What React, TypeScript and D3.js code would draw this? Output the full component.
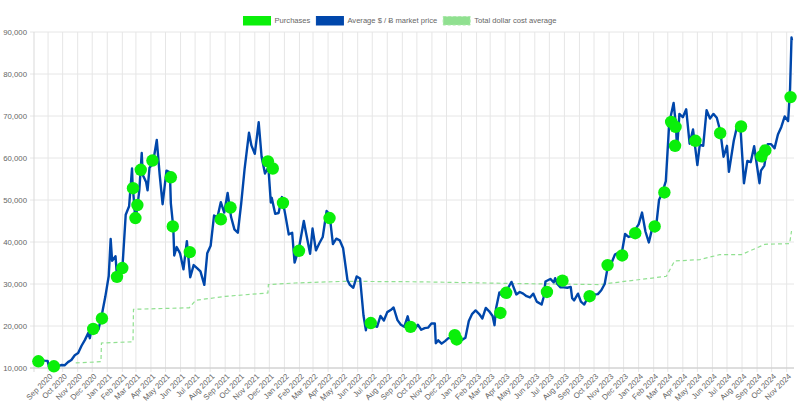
import * as d3 from "d3";
import { useEffect, useRef } from "react";

const parseDay = d3.timeParse("%Y-%m-%d");

const legendLabels = ["Purchases", "Average $ / Ƀ market price", "Total dollar cost average"];
const yTicks = [10000, 20000, 30000, 40000, 50000, 60000, 70000, 80000, 90000];
const xStart = "2020-08-03";
const xEnd = "2024-11-12";

// average market price
const priceSeries: [string, number][] = [
  ["2020-08-03", 11200], ["2020-08-10", 11850], ["2020-08-17", 12250], ["2020-08-24", 11750],
  ["2020-08-31", 11700], ["2020-09-03", 10250], ["2020-09-07", 10300], ["2020-09-14", 10800],
  ["2020-09-21", 10450], ["2020-09-28", 10700], ["2020-10-05", 10650], ["2020-10-12", 11400],
  ["2020-10-19", 11900], ["2020-10-26", 13050], ["2020-11-02", 13550], ["2020-11-09", 15300],
  ["2020-11-16", 16700], ["2020-11-23", 18400], ["2020-11-26", 17100], ["2020-11-30", 19400],
  ["2020-12-07", 19150], ["2020-12-14", 19250], ["2020-12-21", 22800], ["2020-12-28", 27000],
  ["2021-01-04", 31900], ["2021-01-08", 40700], ["2021-01-11", 35500], ["2021-01-18", 36600],
  ["2021-01-21", 31700], ["2021-01-25", 32300], ["2021-02-01", 33500], ["2021-02-08", 46500],
  ["2021-02-15", 48500], ["2021-02-21", 57500], ["2021-02-22", 54100], ["2021-02-28", 45200],
  ["2021-03-04", 48400], ["2021-03-08", 52300], ["2021-03-13", 61200], ["2021-03-15", 56000],
  ["2021-03-22", 54300], ["2021-03-25", 52300], ["2021-03-29", 57700], ["2021-04-05", 58700],
  ["2021-04-13", 64300], ["2021-04-19", 56000], ["2021-04-25", 49000], ["2021-05-03", 57000],
  ["2021-05-10", 56600], ["2021-05-12", 49200], ["2021-05-17", 43500], ["2021-05-19", 36800],
  ["2021-05-24", 38800], ["2021-05-31", 37300], ["2021-06-07", 33500], ["2021-06-14", 40200],
  ["2021-06-21", 31600], ["2021-06-28", 34500], ["2021-07-05", 33800], ["2021-07-12", 33000],
  ["2021-07-20", 29800], ["2021-07-26", 37300], ["2021-08-02", 39100], ["2021-08-09", 46300],
  ["2021-08-16", 45900], ["2021-08-23", 49500], ["2021-08-30", 47000], ["2021-09-06", 51700],
  ["2021-09-13", 46000], ["2021-09-20", 43000], ["2021-09-27", 42200], ["2021-10-04", 49200],
  ["2021-10-11", 57400], ["2021-10-20", 66000], ["2021-10-25", 63000], ["2021-11-01", 61000],
  ["2021-11-09", 68500], ["2021-11-15", 60300], ["2021-11-22", 56300], ["2021-11-29", 57800],
  ["2021-12-04", 49400], ["2021-12-06", 50500], ["2021-12-13", 46700], ["2021-12-20", 46900],
  ["2021-12-27", 50700], ["2022-01-03", 46400], ["2022-01-10", 41800], ["2022-01-17", 42200],
  ["2022-01-22", 35100], ["2022-01-31", 38500], ["2022-02-10", 45000], ["2022-02-14", 42500],
  ["2022-02-23", 37200], ["2022-02-28", 43200], ["2022-03-07", 38000], ["2022-03-14", 39700],
  ["2022-03-21", 41200], ["2022-03-29", 47400], ["2022-04-04", 46600], ["2022-04-11", 39500],
  ["2022-04-18", 40800], ["2022-04-25", 40400], ["2022-05-02", 38500], ["2022-05-11", 30900],
  ["2022-05-16", 29800], ["2022-05-23", 29100], ["2022-05-30", 31800], ["2022-06-06", 31300],
  ["2022-06-13", 22500], ["2022-06-18", 19000], ["2022-06-20", 20600], ["2022-06-27", 20700],
  ["2022-07-04", 20200], ["2022-07-11", 19800], ["2022-07-18", 22400], ["2022-07-25", 21300],
  ["2022-08-01", 23300], ["2022-08-08", 23800], ["2022-08-14", 24400], ["2022-08-22", 21400],
  ["2022-08-29", 20300], ["2022-09-05", 19800], ["2022-09-12", 22300], ["2022-09-19", 18900],
  ["2022-09-26", 19200], ["2022-10-03", 20300], ["2022-10-10", 19100], ["2022-10-17", 19500],
  ["2022-10-24", 19600], ["2022-10-31", 20600], ["2022-11-07", 20600], ["2022-11-09", 15900],
  ["2022-11-14", 16600], ["2022-11-21", 15800], ["2022-11-28", 16400], ["2022-12-05", 17100],
  ["2022-12-12", 17200], ["2022-12-19", 16700], ["2022-12-26", 16900], ["2023-01-02", 16700],
  ["2023-01-09", 17200], ["2023-01-16", 21200], ["2023-01-23", 22900], ["2023-01-30", 23700],
  ["2023-02-06", 22900], ["2023-02-13", 21800], ["2023-02-20", 24300], ["2023-02-27", 23500],
  ["2023-03-06", 22400], ["2023-03-10", 20200], ["2023-03-13", 24100], ["2023-03-20", 28000],
  ["2023-03-27", 27100], ["2023-04-03", 28200], ["2023-04-10", 29700], ["2023-04-14", 30500],
  ["2023-04-24", 27500], ["2023-05-01", 28100], ["2023-05-08", 27700], ["2023-05-15", 27100],
  ["2023-05-22", 26800], ["2023-05-29", 27700], ["2023-06-05", 25800], ["2023-06-15", 25100],
  ["2023-06-19", 26800], ["2023-06-23", 30600], ["2023-07-03", 31200], ["2023-07-10", 30400],
  ["2023-07-13", 31400], ["2023-07-17", 30100], ["2023-07-24", 29200], ["2023-07-31", 29200],
  ["2023-08-07", 29100], ["2023-08-14", 29300], ["2023-08-17", 26600], ["2023-08-21", 26100],
  ["2023-08-29", 27700], ["2023-09-04", 25800], ["2023-09-11", 25100], ["2023-09-18", 26800],
  ["2023-09-25", 26300], ["2023-10-02", 27500], ["2023-10-09", 27600], ["2023-10-16", 28500],
  ["2023-10-23", 30000], ["2023-10-30", 34500], ["2023-11-06", 35000], ["2023-11-13", 37000],
  ["2023-11-20", 37400], ["2023-11-27", 37200], ["2023-12-04", 41900], ["2023-12-11", 41200],
  ["2023-12-18", 41400], ["2023-12-25", 43000], ["2024-01-01", 44200], ["2024-01-08", 47000],
  ["2024-01-15", 42500], ["2024-01-22", 39900], ["2024-01-29", 43300], ["2024-02-05", 42600],
  ["2024-02-12", 50000], ["2024-02-19", 51800], ["2024-02-26", 54500], ["2024-03-04", 68300],
  ["2024-03-13", 73100], ["2024-03-18", 67600], ["2024-03-20", 61900], ["2024-03-25", 70500],
  ["2024-04-01", 69700], ["2024-04-08", 71600], ["2024-04-15", 63400], ["2024-04-22", 66800],
  ["2024-05-01", 58300], ["2024-05-06", 63200], ["2024-05-13", 62900], ["2024-05-20", 71400],
  ["2024-05-27", 69400], ["2024-06-03", 70500], ["2024-06-10", 69600], ["2024-06-17", 66500],
  ["2024-06-24", 60300], ["2024-07-01", 62900], ["2024-07-05", 56700], ["2024-07-15", 64100],
  ["2024-07-22", 67600], ["2024-07-29", 66800], ["2024-08-05", 54000], ["2024-08-12", 59300],
  ["2024-08-19", 59000], ["2024-08-26", 62800], ["2024-09-06", 54000], ["2024-09-09", 57000],
  ["2024-09-16", 58200], ["2024-09-23", 63300], ["2024-09-30", 63300], ["2024-10-07", 62300],
  ["2024-10-14", 65600], ["2024-10-21", 67400], ["2024-10-28", 69900], ["2024-11-04", 68800],
  ["2024-11-08", 76500], ["2024-11-11", 88700], ["2024-11-12", 88000],
];

const purchases: [string, number][] = [
  ["2020-08-12", 11600], ["2020-09-13", 10400], ["2020-12-03", 19300], ["2020-12-21", 21800],
  ["2021-01-21", 31700], ["2021-02-01", 33800], ["2021-02-28", 45700], ["2021-03-04", 48800],
  ["2021-02-23", 52800], ["2021-03-11", 57200], ["2021-04-04", 59400], ["2021-05-12", 55400],
  ["2021-05-16", 43700], ["2021-06-20", 37600], ["2021-08-23", 45400], ["2021-09-12", 48200],
  ["2021-11-28", 59200], ["2021-12-08", 57500], ["2021-12-29", 49300], ["2022-01-31", 37900],
  ["2022-04-04", 45700], ["2022-06-28", 20700], ["2022-09-18", 19800], ["2022-12-18", 17800],
  ["2022-12-22", 16800], ["2023-03-22", 23100], ["2023-04-03", 27900], ["2023-06-26", 28100],
  ["2023-07-28", 30800], ["2023-09-22", 27100], ["2023-10-29", 34500], ["2023-11-28", 36800],
  ["2023-12-25", 42100], ["2024-02-03", 43700], ["2024-02-23", 51800], ["2024-03-08", 68600],
  ["2024-03-17", 67400], ["2024-03-16", 62900], ["2024-04-27", 64100], ["2024-06-17", 65900],
  ["2024-07-30", 67500], ["2024-09-10", 60400], ["2024-09-18", 61800], ["2024-11-09", 74500],
];

const dcaSeries: [string, number][] = [
  ["2020-10-28", 11200], ["2020-12-19", 11500], ["2020-12-20", 15950], ["2021-02-23", 16240],
  ["2021-02-24", 23980], ["2021-06-19", 24330], ["2021-07-02", 26120], ["2021-09-02", 27070],
  ["2021-11-28", 27860], ["2021-11-29", 29860], ["2022-01-23", 30240], ["2022-05-06", 30640],
  ["2022-10-07", 30520], ["2023-05-01", 30100], ["2023-10-13", 29860], ["2023-11-23", 30480],
  ["2024-02-27", 31830], ["2024-03-15", 35480], ["2024-05-06", 35800], ["2024-06-16", 37000],
  ["2024-07-31", 37000], ["2024-09-17", 39450], ["2024-11-07", 39620], ["2024-11-11", 42620],
];

const GREEN = "#0aef0a";
const BLUE = "#0047ab";
const LIGHT = "#90e090";
const FONT = "'Liberation Sans', Arial, sans-serif";

export default function App() {
  const svgRef = useRef<SVGSVGElement | null>(null);

  useEffect(() => {
    if (!svgRef.current) return;
    const width = 800;
    const height = 409;
    const margin = { top: 32, right: 8, bottom: 41, left: 34 };

    const svg = d3.select(svgRef.current);
    svg.selectAll("*").remove();

    const xScale = d3.scaleTime()
      .domain([parseDay(xStart)!, parseDay(xEnd)!])
      .range([margin.left, width - margin.right]);

    const yScale = d3.scaleLinear()
      .domain([10000, 90000])
      .range([height - margin.bottom, margin.top]);

    const bottom = height - margin.bottom;

    // grid
    const grid = svg.append("g");
    const months = xScale.ticks(d3.timeMonth.every(1)!);
    grid.selectAll("line.v")
      .data(months)
      .enter().append("line")
      .attr("x1", d => xScale(d)).attr("x2", d => xScale(d))
      .attr("y1", margin.top).attr("y2", bottom + 4)
      .attr("stroke", "#e6e6e6").attr("stroke-width", 1);
    grid.selectAll("line.h")
      .data(yTicks)
      .enter().append("line")
      .attr("x1", margin.left - 4).attr("x2", width - margin.right + 2)
      .attr("y1", d => yScale(d)).attr("y2", d => yScale(d))
      .attr("stroke", "#e6e6e6").attr("stroke-width", 1);
    grid.append("line")
      .attr("x1", margin.left).attr("x2", margin.left)
      .attr("y1", margin.top).attr("y2", bottom + 4)
      .attr("stroke", "#d9d9d9");
    grid.append("line")
      .attr("x1", margin.left - 4).attr("x2", width - margin.right + 2)
      .attr("y1", bottom).attr("y2", bottom)
      .attr("stroke", "#c8c8c8");

    // y labels
    svg.append("g").selectAll("text")
      .data(yTicks)
      .enter().append("text")
      .attr("x", margin.left - 7)
      .attr("y", d => yScale(d))
      .attr("dy", "0.35em")
      .attr("text-anchor", "end")
      .attr("fill", "#666")
      .style("font", `7.8px ${FONT}`)
      .text(d => d3.format(",")(d));

    // x labels
    const fmt = d3.timeFormat("%b %Y");
    svg.append("g").selectAll("text")
      .data(months)
      .enter().append("text")
      .attr("transform", d => `translate(${xScale(d) + 3},${bottom + 7}) rotate(-45)`)
      .attr("dy", "0.35em")
      .attr("text-anchor", "end")
      .attr("fill", "#666")
      .style("font", `7.8px ${FONT}`)
      .text(d => fmt(d));

    // dollar cost average
    const dca = dcaSeries.map(([d, v]) => ({ date: parseDay(d)!, value: v }));
    const line = d3.line<{ date: Date; value: number }>()
      .x(d => xScale(d.date))
      .y(d => yScale(d.value));
    svg.append("path")
      .datum(dca)
      .attr("fill", "none")
      .attr("stroke", LIGHT)
      .attr("stroke-width", 1.2)
      .attr("stroke-dasharray", "4,3")
      .attr("d", line);

    // market price
    const price = priceSeries.map(([d, v]) => ({ date: parseDay(d)!, value: v }));
    svg.append("path")
      .datum(price)
      .attr("fill", "none")
      .attr("stroke", BLUE)
      .attr("stroke-width", 2.4)
      .attr("stroke-linejoin", "round")
      .attr("d", line);

    // purchases
    svg.append("g").selectAll("circle")
      .data(purchases)
      .enter().append("circle")
      .attr("cx", d => xScale(parseDay(d[0])!))
      .attr("cy", d => yScale(d[1]))
      .attr("r", 6.2)
      .attr("fill", GREEN);

    // legend
    const legend = svg.append("g");
    const fills = [GREEN, BLUE, LIGHT];
    const items = legend.selectAll("g")
      .data(legendLabels)
      .enter().append("g");
    items.append("rect")
      .attr("width", 27).attr("height", 8.5)
      .attr("fill", (_, i) => fills[i])
      .attr("stroke", (_, i) => i === 2 ? "#a8e8a8" : fills[i])
      .attr("stroke-dasharray", (_, i) => i === 2 ? "3,2" : null);
    items.append("text")
      .attr("x", 31).attr("y", 4.3)
      .attr("dy", "0.35em")
      .attr("fill", "#666")
      .style("font", `7.6px ${FONT}`)
      .text(d => d);
    const widths: number[] = [];
    items.each(function () {
      const t = d3.select(this).select("text").node() as SVGTextElement;
      widths.push(31 + t.getComputedTextLength());
    });
    const gap = 6;
    const total = d3.sum(widths) + gap * (widths.length - 1);
    let cursor = width / 2 - total / 2;
    items.attr("transform", (_, i) => {
      const x = cursor;
      cursor += widths[i] + gap;
      return `translate(${x},16.5)`;
    });
  }, []);

  return (
    <div style={{ position: "absolute", left: 0, top: 0, background: "white" }}>
      <svg ref={svgRef} width={800} height={409}></svg>
    </div>
  );
}
